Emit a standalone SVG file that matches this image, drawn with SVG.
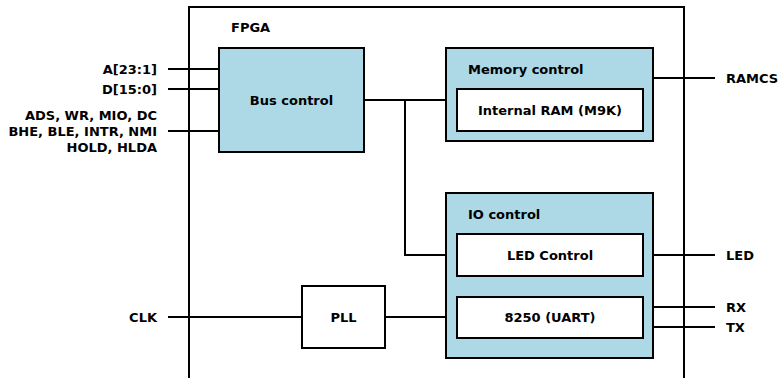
<svg xmlns="http://www.w3.org/2000/svg" width="779" height="378" viewBox="0 0 779 378">
<style>
text{font-family:"DejaVu Sans",sans-serif;font-weight:bold;font-size:13px;fill:#000}
.blk{fill:#add8e6;stroke:#000;stroke-width:2}
.wht{fill:#fff;stroke:#000;stroke-width:2}
.ln{stroke:#000;stroke-width:2;fill:none}
.c{text-anchor:middle}
.r{text-anchor:end}
</style>
<rect width="779" height="378" fill="#fff"/>
<g id="fpga">
<rect x="189" y="7" width="495" height="380" fill="none" stroke="#000" stroke-width="2"/>
<text x="231" y="32">FPGA</text>
</g>
<g id="connectors">
<path class="ln" d="M168 69H219M168 89H219M168 131H219"/>
<path class="ln" d="M364 100H446M405 100V255H446"/>
<path class="ln" d="M654 78H715"/>
<path class="ln" d="M168 317H302M385 317H457"/>
<path class="ln" d="M643 255H715M643 307H715M643 327H715"/>
</g>
<g id="labels">
<text class="r" x="157" y="74">A[23:1]</text>
<text class="r" x="157" y="94">D[15:0]</text>
<text class="r" x="157" y="120">ADS, WR, MIO, DC</text>
<text class="r" x="157" y="136">BHE, BLE, INTR, NMI</text>
<text class="r" x="157" y="152">HOLD, HLDA</text>
<text class="r" x="157" y="322">CLK</text>
<text x="726" y="83">RAMCS</text>
<text x="726" y="260">LED</text>
<text x="726" y="312">RX</text>
<text x="726" y="332">TX</text>
</g>
<g id="bus-control">
<rect class="blk" x="219" y="48" width="145" height="104"/>
<text class="c" x="291.5" y="105">Bus control</text>
</g>
<g id="memory-control">
<rect class="blk" x="446" y="48" width="207" height="93"/>
<text x="468" y="74">Memory control</text>
</g>
<g id="internal-ram">
<rect class="wht" x="457" y="89" width="186" height="42"/>
<text class="c" x="550" y="115">Internal RAM (M9K)</text>
</g>
<g id="io-control">
<rect class="blk" x="446" y="193" width="207" height="165"/>
<text x="468" y="219">IO control</text>
</g>
<g id="led-control">
<rect class="wht" x="457" y="234" width="186" height="42"/>
<text class="c" x="550" y="260">LED Control</text>
</g>
<g id="uart">
<rect class="wht" x="457" y="297" width="186" height="41"/>
<text class="c" x="550" y="322">8250 (UART)</text>
</g>
<g id="pll">
<rect class="wht" x="302" y="286" width="83" height="62"/>
<text class="c" x="343.5" y="322">PLL</text>
</g>
</svg>
